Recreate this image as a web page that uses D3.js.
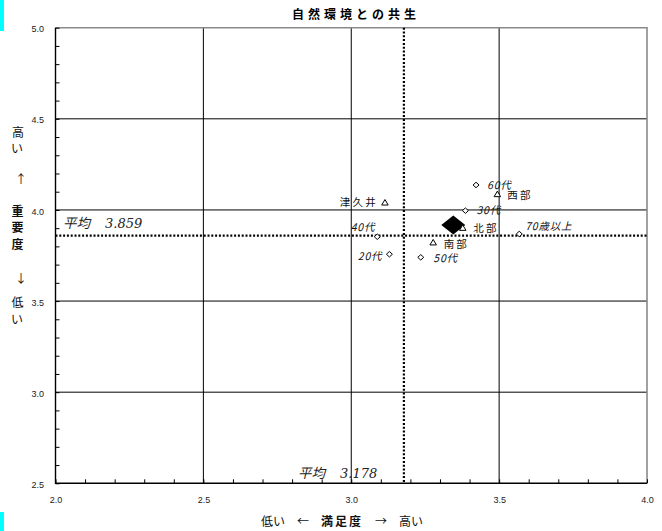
<!DOCTYPE html>
<html><head><meta charset="utf-8">
<script src="https://cdn.jsdelivr.net/npm/d3@7"></script>
<style>body{margin:0;background:#fff;} svg{display:block;}</style>
</head><body>
<svg id="c" width="662" height="531"></svg>
<script>
// ---- data ----
const title = "自然環境との共生";
const areaNames = ["津久井", "西部", "北部", "南部"];
const areaSat   = [3.114, 3.494, 3.377, 3.277];
const areaImp   = [4.042, 4.088, 3.903, 3.823];
const ageNames  = ["20代", "30代", "40代", "50代", "60代", "70歳以上"];
const ageSat    = [3.129, 3.386, 3.088, 3.235, 3.422, 3.568];
const ageImp    = [3.757, 3.996, 3.853, 3.740, 4.137, 3.868];
const totalSat  = 3.345;
const totalImp  = 3.918;
const avgSat    = 3.178;
const avgImp    = 3.859;
const xTicks    = [2.0, 2.5, 3.0, 3.5, 4.0];
const yTicks    = [2.5, 3.0, 3.5, 4.0, 4.5, 5.0];

// ---- label placement (style) ----
const place = {
  "津久井": {dx:-7, dy:0, anchor:"end"},
  "西部": {dx:10, dy:1, anchor:"start"},
  "北部": {dx:10.5, dy:1, anchor:"start"},
  "南部": {dx:10.5, dy:2, anchor:"start"},
  "20代": {dx:-7, dy:2, anchor:"end"},
  "30代": {dx:11, dy:0, anchor:"start"},
  "40代": {dx:-2, dy:-9, anchor:"end"},
  "50代": {dx:12.5, dy:1, anchor:"start"},
  "60代": {dx:11, dy:0, anchor:"start"},
  "70歳以上": {dx:6, dy:-8, anchor:"start"}
};

const svg = d3.select("#c");
const L = 55.5, R = 647, T = 27.7, B = 483.3;
const x = d3.scaleLinear().domain([2, 4]).range([L, R]);
const y = d3.scaleLinear().domain([2.5, 5]).range([B, T]);
const jp = "'Noto Sans CJK JP','Noto Sans',sans-serif";
const num = "'Liberation Sans',Arial,sans-serif";

// cyan marks at the left edge
svg.append("rect").attr("x",0).attr("y",0).attr("width",4).attr("height",31).attr("fill","#00ffff");
svg.append("rect").attr("x",0).attr("y",512).attr("width",4).attr("height",19).attr("fill","#00ffff");

// title
svg.append("text").attr("x",356).attr("y",19).attr("text-anchor","middle")
  .attr("font-family",jp).attr("font-weight","bold").attr("font-size",12)
  .attr("letter-spacing",4).text(title);

// gridlines
const g = svg.append("g");
g.selectAll("line.vg").data(xTicks.filter(d=>d>2&&d<4)).join("line")
  .attr("x1",d=>x(d)).attr("x2",d=>x(d)).attr("y1",T).attr("y2",B)
  .attr("stroke","#000").attr("stroke-width",1);
g.selectAll("line.hg").data(yTicks.filter(d=>d>2.5&&d<5)).join("line")
  .attr("x1",L).attr("x2",R).attr("y1",d=>y(d)).attr("y2",d=>y(d))
  .attr("stroke","#000").attr("stroke-width",1);

// top / right border (gray)
svg.append("path").attr("d",`M${L},${T}H${R}V${B}`).attr("fill","none")
  .attr("stroke","#8a8a8a").attr("stroke-width",1.6);

// minor ticks via axes
const minorX = d3.axisBottom(x).tickValues(d3.range(20,41).map(d=>d/10)).tickSize(-4).tickFormat("");
const minorY = d3.axisLeft(y).tickValues(d3.range(25,51).map(d=>d/10)).tickSize(-4).tickFormat("");
const mx = svg.append("g").attr("transform",`translate(0,${B})`).call(minorX);
const my = svg.append("g").attr("transform",`translate(${L},0)`).call(minorY);
[mx,my].forEach(s=>{ s.select(".domain").remove(); s.selectAll("line").attr("stroke","#000"); });

// labels via axes
const ax = svg.append("g").attr("transform",`translate(0,${B})`)
  .call(d3.axisBottom(x).tickValues(xTicks).tickSize(0).tickPadding(13.5).tickFormat(d3.format(".1f")));
const ay = svg.append("g").attr("transform",`translate(${L},0)`)
  .call(d3.axisLeft(y).tickValues(yTicks).tickSize(0).tickPadding(11.5).tickFormat(d3.format(".1f")));
[ax,ay].forEach(s=>{ s.select(".domain").remove();
  s.selectAll("text").attr("font-family",num).attr("font-size",9).attr("fill","#222"); });
ay.selectAll("text").attr("dy","0.45em");

// left / bottom axis lines
svg.append("path").attr("d",`M${L},${T}V${B}H${R}`).attr("fill","none")
  .attr("stroke","#000").attr("stroke-width",1.4);

// average lines
svg.append("line").attr("x1",x(avgSat)).attr("x2",x(avgSat)).attr("y1",T).attr("y2",B)
  .attr("stroke","#000").attr("stroke-width",2.2).attr("stroke-dasharray","2,1.8");
svg.append("line").attr("x1",L).attr("x2",R).attr("y1",y(avgImp)).attr("y2",y(avgImp))
  .attr("stroke","#000").attr("stroke-width",2.2).attr("stroke-dasharray","2,1.8");

// average labels
function avgLabel(px, py, v){
  const t = svg.append("text").attr("x",px).attr("y",py).attr("font-style","italic").attr("fill","#222");
  t.append("tspan").attr("font-family",jp).attr("font-size",13.5).text("平均");
  t.append("tspan").attr("dx",15).attr("font-family","'DejaVu Serif','Liberation Serif',serif")
    .attr("font-size",13).text(v.toFixed(3));
}
avgLabel(63, y(avgImp)-8, avgImp);
avgLabel(298, B-5, avgSat);

// markers
const diamond = (cx,cy,w,h)=>`M${cx},${cy-h/2}L${cx+w/2},${cy}L${cx},${cy+h/2}L${cx-w/2},${cy}Z`;
const tri = (cx,cy,w,h)=>`M${cx},${cy-h/2}L${cx+w/2},${cy+h/2}L${cx-w/2},${cy+h/2}Z`;

const ages = ageNames.map((n,i)=>({n, sx:ageSat[i], iy:ageImp[i]}));
const areas = areaNames.map((n,i)=>({n, sx:areaSat[i], iy:areaImp[i]}));

svg.append("path").attr("d",diamond(x(totalSat),y(totalImp),24,19)).attr("fill","#000");

svg.selectAll("path.age").data(ages).join("path")
  .attr("d",d=>diamond(x(d.sx),y(d.iy),6,5.5)).attr("fill","#fff").attr("stroke","#000").attr("stroke-width",1);
svg.selectAll("path.area").data(areas).join("path")
  .attr("d",d=>tri(x(d.sx),y(d.iy),6.5,5.5)).attr("fill","#fff").attr("stroke","#000").attr("stroke-width",1);

svg.selectAll("text.agel").data(ages).join("text")
  .attr("x",d=>x(d.sx)+place[d.n].dx).attr("y",d=>y(d.iy)+place[d.n].dy)
  .attr("dy","0.35em").attr("text-anchor",d=>place[d.n].anchor)
  .attr("font-family",jp).attr("font-style","italic").attr("font-size",10.5)
  .attr("letter-spacing",0.8).attr("fill","#111").text(d=>d.n);
svg.selectAll("text.areal").data(areas).join("text")
  .attr("x",d=>x(d.sx)+place[d.n].dx).attr("y",d=>y(d.iy)+place[d.n].dy)
  .attr("dy","0.35em").attr("text-anchor",d=>place[d.n].anchor)
  .attr("font-family",jp).attr("font-size",10.5)
  .attr("letter-spacing",2.2).attr("fill","#111").text(d=>d.n);

// y axis title (vertical stack)
const yt = [
  {t:"高", x:18, y:133, b:false}, {t:"い", x:17, y:149, b:false},
  {t:"↑", x:21, y:180, b:false},
  {t:"重", x:17.5, y:212, b:true}, {t:"要", x:17.5, y:228, b:true}, {t:"度", x:17.5, y:245, b:true},
  {t:"↓", x:21, y:279, b:false},
  {t:"低", x:17.5, y:303, b:false}, {t:"い", x:17, y:320, b:false}
];
svg.selectAll("text.yt").data(yt).join("text")
  .attr("x",d=>d.x).attr("y",d=>d.y).attr("dy","0.35em").attr("text-anchor","middle")
  .attr("font-family",jp).attr("font-size",12).attr("font-weight",d=>d.b?"bold":"normal")
  .attr("fill","#111").text(d=>d.t);

// x axis title
const xt = svg.append("text").attr("x",342).attr("y",526).attr("text-anchor","middle")
  .attr("font-family",jp).attr("font-size",12).attr("fill","#111");
xt.append("tspan").text("低い　←　");
xt.append("tspan").attr("font-weight","bold").attr("letter-spacing",2).text("満足度");
xt.append("tspan").text("　→　高い");
</script>
</body></html>
